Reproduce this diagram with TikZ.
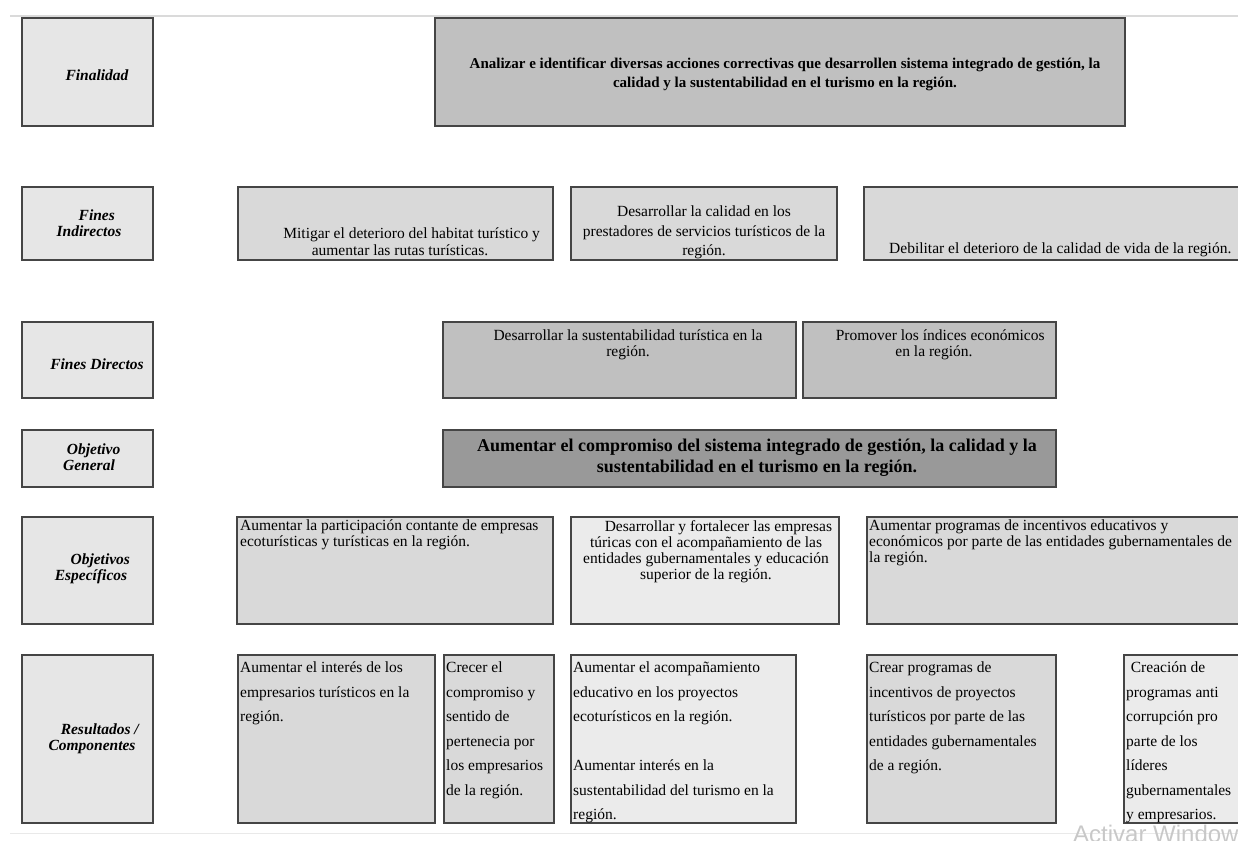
\documentclass[tikz,border=0pt]{standalone}
\usepackage{fontspec}
\setmainfont{Liberation Serif}
\newfontfamily\wmfont{Liberation Sans}
\definecolor{lblfill}{HTML}{E6E6E6}
\definecolor{topfill}{HTML}{C0C0C0}
\definecolor{midfill}{HTML}{D9D9D9}
\definecolor{litefill}{HTML}{EBEBEB}
\definecolor{darkfill}{HTML}{999999}
\definecolor{edge}{HTML}{454545}
\definecolor{frame}{HTML}{DADADA}
\definecolor{wm}{HTML}{C8C8C8}
\tikzset{
  cell/.style={draw=edge, line width=1.2pt, anchor=north west, inner sep=0pt, outer sep=0pt},
  lbl/.style={font=\fontsize{15.5}{16}\selectfont\bfseries\itshape, align=center, inner sep=0pt},
  txt/.style={font=\fontsize{15.5}{16}\selectfont, inner sep=0pt, anchor=north},
  txtl/.style={font=\fontsize{15.5}{16}\selectfont, inner sep=0pt, anchor=north west, align=left},
  txtr/.style={font=\fontsize{15.5}{24.5}\selectfont, inner sep=0pt, anchor=north west, align=left},
}
\begin{document}
\begin{tikzpicture}[x=1pt,y=-1pt]
\useasboundingbox (0,0) rectangle (1238,840);
% screenshot frame lines
\coordinate (fa) at (10,16);
\coordinate (fb) at (1238,16);
\coordinate (fc) at (10,833);
\coordinate (fd) at (1238,833);
\draw[frame, line width=1.5pt] (fa) -- (fb);
\draw[frame!60, line width=1pt] (fc) -- (fd);

% label column
\node[cell, fill=lblfill, minimum width=131pt, minimum height=108pt] (L1) at (22,18) {};
\node[cell, fill=lblfill, minimum width=131pt, minimum height=73pt] (L2) at (22,187) {};
\node[cell, fill=lblfill, minimum width=131pt, minimum height=76pt] (L3) at (22,322) {};
\node[cell, fill=lblfill, minimum width=131pt, minimum height=57pt] (L4) at (22,430) {};
\node[cell, fill=lblfill, minimum width=131pt, minimum height=107pt] (L5) at (22,517) {};
\node[cell, fill=lblfill, minimum width=131pt, minimum height=168pt] (L6) at (22,655) {};

\node[lbl] (tL1) at (97,75) {Finalidad};
\node[lbl] (tL2) at (89,223) {\hspace*{1em}Fines\\Indirectos};
\node[lbl] (tL3) at (97,364) {Fines Directos};
\node[lbl] (tL4) at (89,457) {\hspace*{0.6em}Objetivo\\General};
\node[lbl] (tL5) at (91,569) {\hspace*{1.2em}Objetivos\\Específicos};
\node[lbl] (tL6) at (92,739) {\hspace*{1em}Resultados /\\Componentes};

% Finalidad
\node[cell, fill=topfill, minimum width=690pt, minimum height=108pt] (top) at (435,18) {};
\node[font=\fontsize{15}{19}\selectfont\bfseries, align=center, inner sep=0pt] (ttop) at (785,74)
  {Analizar e identificar diversas acciones correctivas que desarrollen sistema integrado de gestión, la\\calidad y la sustentabilidad en el turismo en la región.};

% Fines indirectos
\node[cell, fill=midfill, minimum width=315pt, minimum height=73pt] (fi1) at (238,187) {};
\node[cell, fill=midfill, minimum width=266pt, minimum height=73pt] (fi2) at (571,187) {};
\node[cell, fill=midfill, minimum width=400pt, minimum height=73pt] (fi3) at (864,187) {};
\node[txt, align=center, font=\fontsize{15.5}{17}\selectfont] (tfi1) at (400,228)
  {\hspace*{1.5em}Mitigar el deterioro del habitat turístico y\\aumentar las rutas turísticas.};
\node[txt, align=center, font=\fontsize{15.5}{19.5}\selectfont] (tfi2) at (704,206)
  {Desarrollar la calidad en los\\prestadores de servicios turísticos de la\\región.};
\node[txtl] (tfi3) at (889,243) {Debilitar el deterioro de la calidad de vida de la región.};

% Fines directos
\node[cell, fill=topfill, minimum width=353pt, minimum height=76pt] (fd1) at (443,322) {};
\node[cell, fill=topfill, minimum width=253pt, minimum height=76pt] (fd2) at (803,322) {};
\node[txt, align=center] (tfd1) at (628,330)
  {Desarrollar la sustentabilidad turística en la\\región.};
\node[txt, align=center] (tfd2) at (934,330)
  {\hspace*{0.8em}Promover los índices económicos\\en la región.};

% Objetivo general
\node[cell, fill=darkfill, minimum width=613pt, minimum height=57pt] (og) at (443,430) {};
\node[font=\fontsize{18}{21}\selectfont\bfseries, align=center, inner sep=0pt] (tog) at (757,458)
  {Aumentar el compromiso del sistema integrado de gestión, la calidad y la\\sustentabilidad en el turismo en la región.};

% Objetivos especificos
\node[cell, fill=midfill, minimum width=316pt, minimum height=107pt] (oe1) at (237,517) {};
\node[cell, fill=litefill, minimum width=268pt, minimum height=107pt] (oe2) at (571,517) {};
\node[cell, fill=midfill, minimum width=400pt, minimum height=107pt] (oe3) at (867,517) {};
\node[txtl] (toe1) at (240,520)
  {Aumentar la participación contante de empresas\\ecoturísticas y turísticas en la región.};
\node[txt, align=center] (toe2) at (706,520)
  {\hspace*{1.6em}Desarrollar y fortalecer las empresas\\túricas con el acompañamiento de las\\entidades gubernamentales y educación\\superior de la región.};
\node[txtl] (toe3) at (869,520)
  {Aumentar programas de incentivos educativos y\\económicos por parte de las entidades gubernamentales de\\la región.};

% Resultados / componentes
\node[cell, fill=midfill, minimum width=197pt, minimum height=168pt] (r1) at (238,655) {};
\node[cell, fill=midfill, minimum width=110pt, minimum height=168pt] (r2) at (444,655) {};
\node[cell, fill=litefill, minimum width=225pt, minimum height=168pt] (r3) at (571,655) {};
\node[cell, fill=midfill, minimum width=189pt, minimum height=168pt] (r4) at (867,655) {};
\node[cell, fill=litefill, minimum width=140pt, minimum height=168pt] (r5) at (1124,655) {};
\node[txtr] (tr1) at (240,662)
  {Aumentar el interés de los\\empresarios turísticos en la\\región.};
\node[txtr] (tr2) at (446,662)
  {Crecer el\\compromiso y\\sentido de\\pertenecia por\\los empresarios\\de la región.};
\node[txtr] (tr3) at (573,662)
  {Aumentar el acompañamiento\\educativo en los proyectos\\ecoturísticos en la región.\\[24.5pt]Aumentar interés en la\\sustentabilidad del turismo en la\\región.};
\node[txtr] (tr4) at (869,662)
  {Crear programas de\\incentivos de proyectos\\turísticos por parte de las\\entidades gubernamentales\\de a región.};
\node[txtr] (tr5) at (1126,662)
  {\hspace*{0.3em}Creación de\\programas anti\\corrupción pro\\parte de los\\líderes\\gubernamentales\\y empresarios.};

% watermark
\node[font=\wmfont\fontsize{24}{24}\selectfont, text=wm, anchor=west, inner sep=0pt] (wmk) at (1073,834) {Activar Windows};
\end{tikzpicture}
\end{document}
